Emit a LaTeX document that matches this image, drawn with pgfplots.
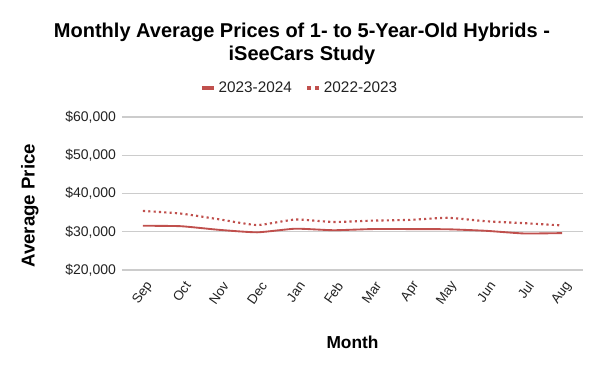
\documentclass[border=0pt]{standalone}
\usepackage{pgfplots}
\pgfplotsset{compat=1.18}
\usepackage{fontspec}
\setmainfont{Liberation Sans}
\definecolor{ser}{HTML}{C0504D}
\definecolor{grd}{HTML}{CCCCCC}
\definecolor{tck}{HTML}{222222}
\begin{document}
\begin{tikzpicture}[x=0.75pt,y=0.75pt]
\useasboundingbox (0,0) rectangle (600,-371);
\node[font=\bfseries\fontsize{15}{17}\selectfont, align=center] at (302,-44) {Monthly Average Prices of 1- to 5-Year-Old Hybrids -\\iSeeCars Study};
\begin{axis}[
  at={(122*0.75pt,-270*0.75pt)}, anchor=south west,
  scale only axis, width=461*0.75pt, height=153*0.75pt,
  xmin=-0.55, xmax=11.55, ymin=20000, ymax=60000,
  scaled ticks=false,
  xtick={0,...,11},
  xticklabels={Sep,Oct,Nov,Dec,Jan,Feb,Mar,Apr,May,Jun,Jul,Aug},
  ytick={20000,30000,40000,50000,60000},
  yticklabels={{\$20,000},{\$30,000},{\$40,000},{\$50,000},{\$60,000}},
  axis line style={draw=none},
  tick style={draw=none},
  ymajorgrids, grid style={grd, line width=0.8pt},
  yticklabel style={font=\fontsize{10.5}{12}\selectfont, text=tck, xshift=-1pt},
  xticklabel style={font=\fontsize{10}{12}\selectfont, text=tck, xshift=7pt, yshift=-7pt, rotate=55, anchor=east},
  xlabel={Month}, ylabel={Average Price},
  xlabel style={font=\bfseries\fontsize{13}{15}\selectfont, at={(axis description cs:0.5,-0.47)}, anchor=center},
  ylabel style={font=\bfseries\fontsize{14}{16}\selectfont, at={(axis description cs:-0.2,0.42)}, anchor=center},
  legend columns=2,
  legend style={draw=none, font=\fontsize{11.5}{13}\selectfont, text=tck, at={(axis description cs:0.386,1.19)}, anchor=center, /tikz/every even column/.append style={column sep=8pt}},
  legend image code/.code={\draw[#1] (0pt,0pt) -- (9pt,0pt);},
]
\addlegendimage{ser, line width=3pt}
\addlegendentry{2023-2024}
\addlegendimage{ser, line width=3pt, dash pattern=on 3pt off 3pt}
\addlegendentry{2022-2023}
\addplot[ser, line width=1.4pt, smooth, tension=0.3, forget plot] coordinates {
(0,31570)(1,31450)(2,30500)(3,29850)(4,30800)(5,30400)(6,30700)(7,30700)(8,30650)(9,30250)(10,29550)(11,29650)};
\addplot[ser, line width=1.6pt, dash pattern=on 1.6pt off 2.4pt, smooth, tension=0.3, forget plot] coordinates {
(0,35450)(1,34750)(2,33250)(3,31750)(4,33200)(5,32550)(6,32900)(7,33100)(8,33650)(9,32750)(10,32250)(11,31650)};
\end{axis}
\end{tikzpicture}
\end{document}
